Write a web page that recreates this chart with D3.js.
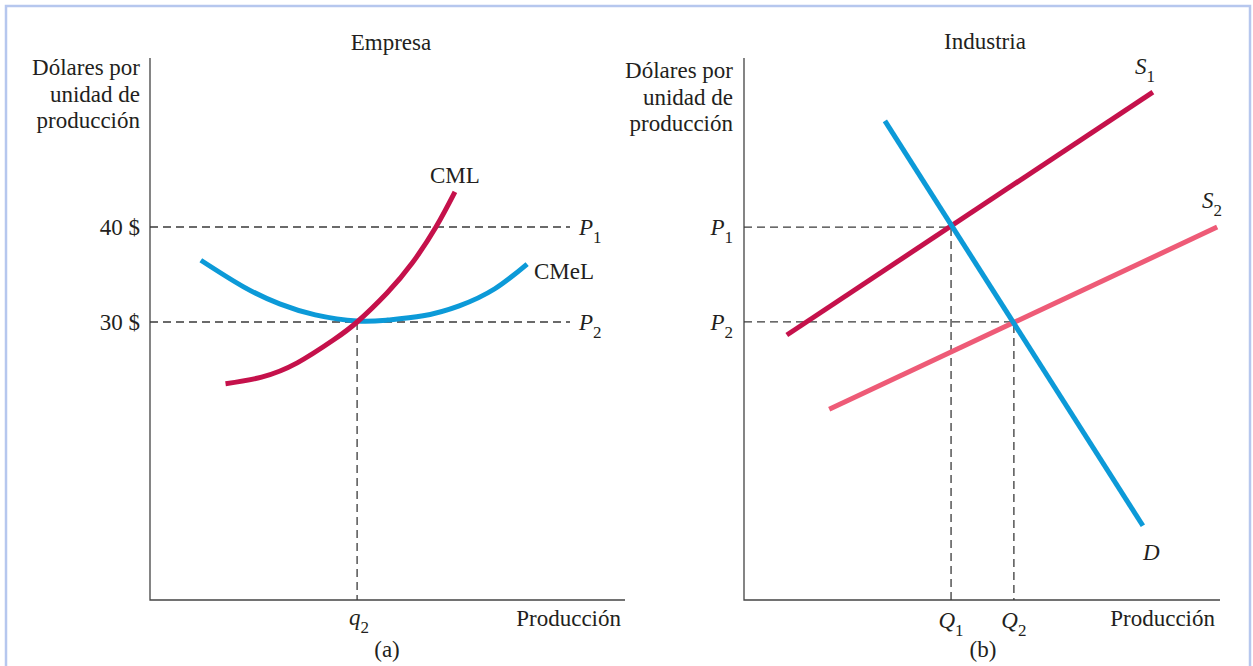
<!DOCTYPE html>
<html>
<head>
<meta charset="utf-8">
<script src="https://cdn.jsdelivr.net/npm/d3@7"></script>
<style>
  body { margin: 0; background: #fff; }
  svg text { font-family: "Liberation Serif", "Times New Roman", serif; fill: #231f20; }
</style>
</head>
<body>
<script>
// (a) Empresa: curvas de costes a largo plazo (q en % del eje, precio en $)
const cmelQ = [10.7, 19.7, 27.3, 34.8, 43.6, 50.0, 57.5, 65.1, 72.6, 79.4];
const cmelP = [36.5, 33.7, 31.9, 30.75, 30.1, 30.2, 30.65, 31.7, 33.5, 36.1];
const cmlQ = [15.9, 23.5, 31.0, 38.6, 43.6, 49.9, 55.2, 60.2, 64.2];
const cmlP = [23.5, 24.2, 25.7, 28.1, 30.0, 33.05, 36.2, 40.0, 43.7];
const priceTicks = [40, 30];
const q2 = 43.6;

// (b) Industria: oferta y demanda (rectas: extremos)
const s1Q = [9.0, 85.9], s1P = [48.9, 93.7];
const s2Q = [17.9, 99.4], s2P = [35.2, 68.8];
const dQ = [29.6, 83.8], dP = [88.4, 13.7];
const indP = { P1: 68.8, P2: 51.3 };
const indQ = { Q1: 43.5, Q2: 56.7 };

const W = 1253, H = 666;
const red = "#c5114b", blue = "#0c9ad8", pink = "#ee5b77";
const dash = "8,5";
const fs = "23px", fsSub = "17px";

const svg = d3.select("body").append("svg").attr("width", W).attr("height", H);

// marco azul claro
svg.append("rect")
  .attr("x", 6).attr("y", 6).attr("width", 1244).attr("height", 700)
  .attr("fill", "none").attr("stroke", "#b6c7ee").attr("stroke-width", 2.5);

//etiqueta con subindice
function subLabel(g, x, y, main, sub, anchor) {
  const t = g.append("text").attr("x", x).attr("y", y)
    .attr("text-anchor", anchor || "start").style("font-size", fs);
  t.append("tspan").style("font-style", "italic").text(main);
  t.append("tspan").attr("dy", 8).style("font-size", fsSub).text(sub);
  return t;
}

function plainText(g, x, y, s, anchor) {
  return g.append("text").attr("x", x).attr("y", y)
    .attr("text-anchor", anchor || "start").style("font-size", fs).text(s);
}

function yLabel(g, xRight, y0) {
  ["Dólares por", "unidad de", "producción"].forEach((s, i) =>
    plainText(g, xRight, y0 + i * 26.5, s, "end"));
}

// ---------- panel (a) ----------
const xA = d3.scaleLinear().domain([0, 100]).range([150, 625]);
const yA = d3.scaleLinear().domain([30, 40]).range([322, 227]);
const gA = svg.append("g");

gA.append("path").attr("d", "M150,58V600H625")
  .attr("fill", "none").attr("stroke", "#444").attr("stroke-width", 1.3);

const axA = d3.axisLeft(yA).tickValues(priceTicks).tickSize(0).tickPadding(10)
  .tickFormat((d) => d + " $");
const axG = gA.append("g").attr("transform", "translate(150,0)").call(axA);
axG.select(".domain").remove();
axG.selectAll("text").attr("font-family", null).style("font-size", fs).attr("dy", "0.32em");

// precios P1, P2 discontinuas
priceTicks.forEach((p) => {
  gA.append("line").attr("x1", xA(0)).attr("x2", 570)
    .attr("y1", yA(p)).attr("y2", yA(p))
    .attr("stroke", "#3a3a3a").attr("stroke-width", 1.3).attr("stroke-dasharray", dash);
});
gA.append("line").attr("x1", xA(q2)).attr("x2", xA(q2))
  .attr("y1", yA(30)).attr("y2", 600)
  .attr("stroke", "#3a3a3a").attr("stroke-width", 1.3).attr("stroke-dasharray", dash);

const lineA = d3.line().x((d) => xA(d[0])).y((d) => yA(d[1])).curve(d3.curveNatural);
gA.append("path").datum(d3.zip(cmelQ, cmelP)).attr("d", lineA)
  .attr("fill", "none").attr("stroke", blue).attr("stroke-width", 5);
gA.append("path").datum(d3.zip(cmlQ, cmlP)).attr("d", lineA)
  .attr("fill", "none").attr("stroke", red).attr("stroke-width", 5);

plainText(gA, 391, 50, "Empresa", "middle");
yLabel(gA, 140, 75);
plainText(gA, 430, 183, "CML");
plainText(gA, 534, 279, "CMeL");
subLabel(gA, 579, yA(40) + 8, "P", "1");
subLabel(gA, 579, yA(30) + 8, "P", "2");
subLabel(gA, xA(q2) + 2, 625, "q", "2", "middle");
plainText(gA, 621, 626, "Producción", "end");
plainText(gA, 387, 657, "(a)", "middle");

// ---------- panel (b) ----------
const xB = d3.scaleLinear().domain([0, 100]).range([744, 1220]);
const yB = d3.scaleLinear().domain([0, 100]).range([600, 58]);
const gB = svg.append("g");

gB.append("path").attr("d", "M744,58V600H1220")
  .attr("fill", "none").attr("stroke", "#444").attr("stroke-width", 1.3);

[["P1", "Q1"], ["P2", "Q2"]].forEach(([p, q]) => {
  gB.append("path")
    .attr("d", `M${xB(0)},${yB(indP[p])}H${xB(indQ[q])}V${yB(0)}`)
    .attr("fill", "none").attr("stroke", "#3a3a3a").attr("stroke-width", 1.3)
    .attr("stroke-dasharray", dash);
});

const lineB = d3.line().x((d) => xB(d[0])).y((d) => yB(d[1]));
[[s1Q, s1P, red], [s2Q, s2P, pink], [dQ, dP, blue]].forEach(([q, p, c]) => {
  gB.append("path").datum(d3.zip(q, p)).attr("d", lineB)
    .attr("fill", "none").attr("stroke", c).attr("stroke-width", 5);
});

plainText(gB, 985, 49, "Industria", "middle");
yLabel(gB, 733, 78);
subLabel(gB, 733, yB(indP.P1) + 8, "P", "1", "end");
subLabel(gB, 733, yB(indP.P2) + 8, "P", "2", "end");
subLabel(gB, 1135, 74, "S", "1");
subLabel(gB, 1202, 208, "S", "2");
gB.append("text").attr("x", 1143).attr("y", 560).style("font-size", fs)
  .style("font-style", "italic").text("D");
subLabel(gB, xB(indQ.Q1), 628, "Q", "1", "middle");
subLabel(gB, xB(indQ.Q2), 628, "Q", "2", "middle");
plainText(gB, 1215, 626, "Producción", "end");
plainText(gB, 983, 657, "(b)", "middle");
</script>
</body>
</html>
